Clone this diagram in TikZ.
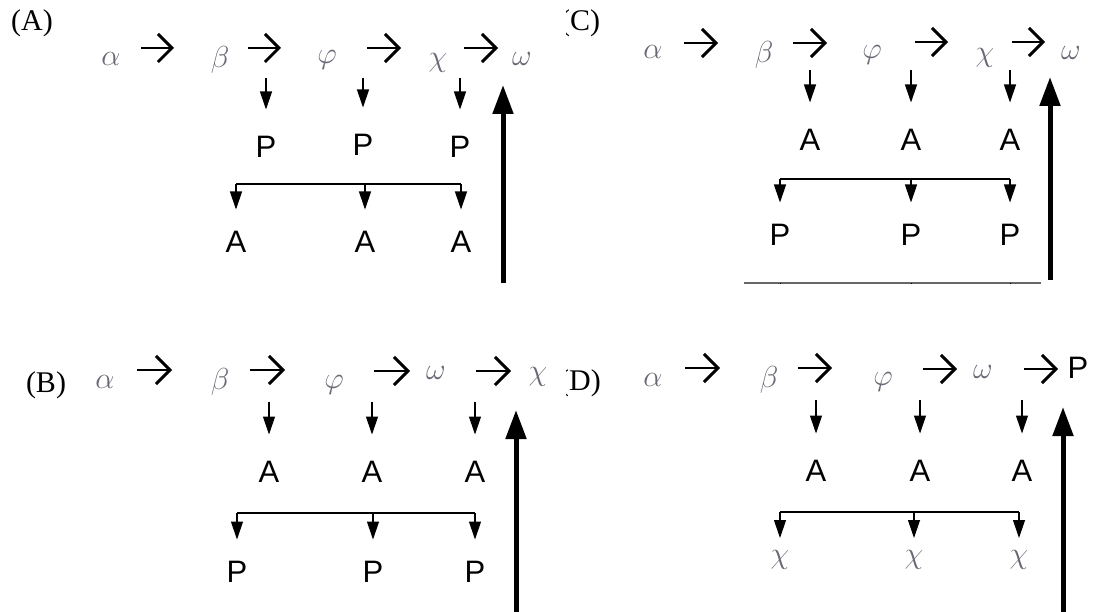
\documentclass[tikz,border=0pt]{standalone}
\usepackage{fontspec}
\setmainfont{Liberation Serif}
\newfontfamily\sansfont{Liberation Sans}
\usetikzlibrary{arrows.meta,positioning}
\definecolor{greekgray}{RGB}{105,105,118}
\tikzset{
  chev/.style={line width=2.9pt, -{Straight Barb[length=14pt,width=28pt]}},
  dnarr/.style={line width=1.2pt, -{Triangle[length=18pt,width=12pt]}, shorten >=37.5pt},
  brk/.style={line width=1.2pt, -{Triangle[length=18pt,width=12pt]}, shorten >=32.5pt},
  bar/.style={line width=1.2pt},
  upthick/.style={line width=5pt, -{Triangle[length=29pt,width=20pt]}},
  gk/.style={text=greekgray, font=\Huge, scale=1.22, transform shape, inner sep=0pt},
  lt/.style={font=\sansfont\fontsize{31}{33}\selectfont, inner sep=0pt},
  tag/.style={font=\fontsize{30}{32}\selectfont, inner sep=0pt}
}

\begin{document}
\begin{tikzpicture}[x=1pt,y=-1pt]
  \useasboundingbox (0,0) rectangle (1098,612);
  % (A)
  \node[tag] (labA) at (32,23) {(A)};
  \node[gk] (alA) at (111,59) {$\alpha$};
  \node[gk] (beA) at (220,60) {$\beta$};
  \node[gk] (phA) at (327,60) {$\varphi$};
  \node[gk] (chA) at (438,63) {$\chi$};
  \node[gk] (omA) at (522,59) {$\omega$};
  \draw[chev] (141,48) -- (174,48);
  \draw[chev] (248,48) -- (281,48);
  \draw[chev] (367,48) -- (401,48);
  \draw[chev] (464,48) -- (498,48);
  \coordinate (rowA) at (0,78);
  \node[lt] (pA1) at (266,147) {P};
  \node[lt] (pA2) at (363,145) {P};
  \node[lt] (pA3) at (460,147) {P};
  \draw[dnarr] (rowA -| pA1) -- (pA1.center);
  \draw[dnarr] (rowA -| pA2) -- (pA2.center);
  \draw[dnarr] (rowA -| pA3) -- (pA3.center);
  \coordinate (barA) at (0,184);
  \node[lt] (aA1) at (236,242) {A};
  \node[lt] (aA2) at (365,242) {A};
  \node[lt] (aA3) at (461,242) {A};
  \draw[bar] (barA -| aA1) -- (barA -| aA3);
  \draw[brk] (barA -| aA1) -- (aA1.center);
  \draw[brk] (barA -| aA2) -- (aA2.center);
  \draw[brk] (barA -| aA3) -- (aA3.center);
  \coordinate (baseA) at (503,283);
  \coordinate (tipA) at (503,85);
  \draw[upthick] (baseA) -- (tipA);

  % (C)
  \begin{scope}
    \clip (566,0) rectangle (640,80);
    \node[tag] (labC) at (580,23) {(C)};
  \end{scope}
  \node[gk] (alC) at (653,52) {$\alpha$};
  \node[gk] (beC) at (764,55) {$\beta$};
  \node[gk] (phC) at (872,55) {$\varphi$};
  \node[gk] (chC) at (985,58) {$\chi$};
  \node[gk] (omC) at (1071,53) {$\omega$};
  \draw[chev] (684,43) -- (718,43);
  \draw[chev] (793,43) -- (827,43);
  \draw[chev] (915,42) -- (948,42);
  \draw[chev] (1012,42) -- (1045,42);
  \coordinate (rowC) at (0,70);
  \node[lt] (aC1) at (810,140) {A};
  \node[lt] (aC2) at (911,140) {A};
  \node[lt] (aC3) at (1010,140) {A};
  \draw[dnarr] (rowC -| aC1) -- (aC1.center);
  \draw[dnarr] (rowC -| aC2) -- (aC2.center);
  \draw[dnarr] (rowC -| aC3) -- (aC3.center);
  \coordinate (barC) at (0,179);
  \node[lt] (pC1) at (780,235) {P};
  \node[lt] (pC2) at (911,235) {P};
  \node[lt] (pC3) at (1010,235) {P};
  \draw[bar] (barC -| pC1) -- (barC -| pC3);
  \draw[brk] (barC -| pC1) -- (pC1.center);
  \draw[brk] (barC -| pC2) -- (pC2.center);
  \draw[brk] (barC -| pC3) -- (pC3.center);
  \coordinate (lineC) at (744,283);
  \coordinate (lineCe) at (1041,283);
  \draw[line width=2pt, black!60] (lineC) -- (lineCe);
  \draw[line width=0.8pt] (lineC -| pC1) -- ++(0,1.5);
  \draw[line width=0.8pt] (lineC -| pC2) -- ++(0,1.5);
  \draw[line width=0.8pt] (lineC -| pC3) -- ++(0,1.5);
  \coordinate (baseC) at (1050,280);
  \coordinate (tipC) at (1050,77);
  \draw[upthick] (baseC) -- (tipC);

  % (B)
  \node[tag] (labB) at (46,385) {(B)};
  \node[gk] (alB) at (105,382) {$\alpha$};
  \node[gk] (beB) at (220,382) {$\beta$};
  \node[gk] (phB) at (334,385) {$\varphi$};
  \node[gk] (omB) at (436,373) {$\omega$};
  \node[gk] (chB) at (538,377) {$\chi$};
  \draw[chev] (137,370) -- (172,370);
  \draw[chev] (250,370) -- (285,370);
  \draw[chev] (374,371) -- (410,371);
  \draw[chev] (476,371) -- (511,371);
  \coordinate (rowB) at (0,402);
  \node[lt] (aB1) at (269,472) {A};
  \node[lt] (aB2) at (372,472) {A};
  \node[lt] (aB3) at (475,472) {A};
  \draw[dnarr] (rowB -| aB1) -- (aB1.center);
  \draw[dnarr] (rowB -| aB2) -- (aB2.center);
  \draw[dnarr] (rowB -| aB3) -- (aB3.center);
  \coordinate (barB) at (0,513);
  \node[lt] (pB1) at (237,572) {P};
  \node[lt] (pB2) at (373,572) {P};
  \node[lt] (pB3) at (475,572) {P};
  \draw[bar] (barB -| pB1) -- (barB -| pB3);
  \draw[brk] (barB -| pB1) -- (pB1.center);
  \draw[brk] (barB -| pB2) -- (pB2.center);
  \draw[brk] (barB -| pB3) -- (pB3.center);
  \coordinate (baseB) at (516,612);
  \coordinate (tipB) at (516,410);
  \draw[upthick] (baseB) -- (tipB);

  % (D)
  \begin{scope}
    \clip (566,300) rectangle (640,420);
    \node[tag] (labD) at (580,383) {(D)};
  \end{scope}
  \node[gk] (alD) at (653,380) {$\alpha$};
  \node[gk] (beD) at (769,380) {$\beta$};
  \node[gk] (phD) at (883,382) {$\varphi$};
  \node[gk] (omD) at (983,372) {$\omega$};
  \node[lt] (pD) at (1078,368) {P};
  \draw[chev] (685,368) -- (720,368);
  \draw[chev] (798,368) -- (832,368);
  \draw[chev] (923,369) -- (957,369);
  \draw[chev] (1024,369) -- (1058,369);
  \coordinate (rowD) at (0,400);
  \node[lt] (aD1) at (816,471) {A};
  \node[lt] (aD2) at (920,471) {A};
  \node[lt] (aD3) at (1022,471) {A};
  \draw[dnarr] (rowD -| aD1) -- (aD1.center);
  \draw[dnarr] (rowD -| aD2) -- (aD2.center);
  \draw[dnarr] (rowD -| aD3) -- (aD3.center);
  \coordinate (barD) at (0,512);
  \node[gk] (chD1) at (780,560) {$\chi$};
  \node[gk] (chD2) at (914,560) {$\chi$};
  \node[gk] (chD3) at (1019,560) {$\chi$};
  \draw[bar] (barD -| chD1) -- (barD -| chD3);
  \draw[brk, shorten >=22pt] (barD -| chD1) -- (chD1.center);
  \draw[brk, shorten >=22pt] (barD -| chD2) -- (chD2.center);
  \draw[brk, shorten >=22pt] (barD -| chD3) -- (chD3.center);
  \coordinate (baseD) at (1063,612);
  \coordinate (tipD) at (1063,407);
  \draw[upthick] (baseD) -- (tipD);
\end{tikzpicture}
\end{document}
